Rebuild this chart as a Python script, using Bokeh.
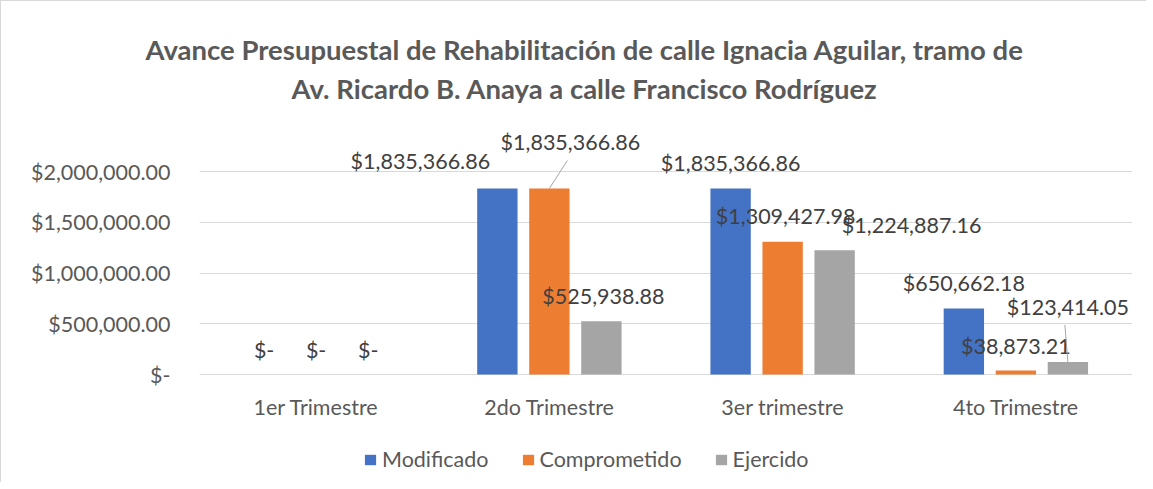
from bokeh.plotting import figure
from bokeh.models import FactorRange, ColumnDataSource, FixedTicker, Legend, LegendItem, Title, Range1d
from bokeh.transform import dodge
from bokeh.core.properties import value
from bokeh.embed import file_html
from bokeh.resources import INLINE

# ---- data ----
categories = ["1er Trimestre", "2do Trimestre", "3er trimestre", "4to Trimestre"]
series_names = ["Modificado", "Comprometido", "Ejercido"]
modificado = [0, 1835366.86, 1835366.86, 650662.18]
comprometido = [0, 1835366.86, 1309427.98, 38873.21]
ejercido = [0, 525938.88, 1224887.16, 123414.05]
y_ticks = [0, 500000, 1000000, 1500000, 2000000]
title_line1 = "Avance Presupuestal de Rehabilitación de calle Ignacia Aguilar, tramo de"
title_line2 = "Av. Ricardo B. Anaya a calle Francisco Rodríguez"

# ---- styling / layout ----
colors = ["#4472C4", "#ED7D31", "#A5A5A5"]
dodges = [-0.223, 0.0, 0.223]
bar_w = 0.173
FONT = "Lato"
FS = "21.5px"
# data label offsets (screen px) per series, per category
label_dx = [[0, -77, 0, 0], [0, 21, 3, 0], [0, 2, 77, 0]]
label_dy = [[-25, -27, -25, -26], [-25, -46, -26, -25], [-25, -25, -25, -55]]
# leader lines: (series, category, end dx px, end dy px)
leaders = [(1, 1, 18, -28), (2, 3, -3, -37)]

FIG_W, FIG_H = 1145, 481
LEFT = 198
FRAME_W = 933
FRAME_TOP = 104
ZERO_Y = 373
PX_PER_UNIT = 202.7 / 2000000
Y_START = -(FIG_H - ZERO_Y) / PX_PER_UNIT
Y_END = (ZERO_Y - FRAME_TOP) / PX_PER_UNIT


def money(v):
    return "$-" if v == 0 else "${:,.2f}".format(v)


p = figure(
    x_range=FactorRange(*categories),
    y_range=Range1d(Y_START, Y_END),
    frame_width=FRAME_W, frame_height=FIG_H - FRAME_TOP,
    min_border_left=LEFT, min_border_right=FIG_W - LEFT - FRAME_W,
    min_border_top=FRAME_TOP, min_border_bottom=0,
    output_backend="svg", toolbar_location=None, title=title_line1,
)
p.styles = {"border-left": "1px solid #D9D9D9", "border-top": "1px solid #D9D9D9"}
p.outline_line_color = None
p.background_fill_color = "white"
p.border_fill_color = "white"

all_vals = [modificado, comprometido, ejercido]
renderers = []
for i, vals in enumerate(all_vals):
    src = ColumnDataSource(dict(
        x=categories, y=vals, text=[money(v) for v in vals],
        dx=label_dx[i], dy=label_dy[i],
    ))
    r = p.vbar(x=dodge("x", dodges[i], range=p.x_range), top="y", width=bar_w,
               source=src, fill_color=colors[i], line_color=None)
    renderers.append(r)
    p.text(x=dodge("x", dodges[i], range=p.x_range), y="y", text="text", source=src,
           x_offset="dx", y_offset="dy", text_align="center", text_baseline="middle",
           text_font=value(FONT), text_font_size=FS, text_color="#404040")

x_per_px = len(categories) / FRAME_W
y_per_px = 1 / PX_PER_UNIT
for (si, ci, ex, ey) in leaders:
    v = all_vals[si][ci]
    src = ColumnDataSource(dict(x=[categories[ci]], y0=[v], y1=[v - ey * y_per_px]))
    p.segment(x0=dodge("x", dodges[si], range=p.x_range),
              x1=dodge("x", dodges[si] + ex * x_per_px, range=p.x_range),
              y0="y0", y1="y1", source=src, line_color="#A6A6A6", line_width=1)

# category labels under the zero line
cat_src = ColumnDataSource(dict(x=categories, y=[0] * len(categories)))
p.text(x="x", y="y", text="x", source=cat_src, y_offset=32,
       text_align="center", text_baseline="middle",
       text_font=value(FONT), text_font_size=FS, text_color="#595959")

# axes
p.xaxis.visible = False
p.yaxis.ticker = FixedTicker(ticks=y_ticks)
p.yaxis.major_label_overrides = {t: money(t) for t in y_ticks}
p.yaxis.axis_line_color = None
p.yaxis.major_tick_line_color = None
p.yaxis.minor_tick_line_color = None
p.yaxis.major_tick_out = 0
p.yaxis.major_tick_in = 0
p.yaxis.major_label_standoff = 29
p.yaxis.major_label_text_font = FONT
p.yaxis.major_label_text_font_size = FS
p.yaxis.major_label_text_color = "#595959"

p.xgrid.grid_line_color = None
p.ygrid.ticker = FixedTicker(ticks=y_ticks)
p.ygrid.grid_line_color = "#D9D9D9"
p.ygrid.grid_line_width = 1

# titles
p.title.align = "left"
p.title.offset = 144 - LEFT
p.title.standoff = 5
p.title.text_font = FONT
p.title.text_font_size = "27.5px"
p.title.text_font_style = "bold"
p.title.text_color = "#595959"
t2 = Title(text=title_line2, align="left", offset=290 - LEFT, standoff=2, text_font=FONT,
           text_font_size="27.5px", text_font_style="bold", text_color="#595959")
p.add_layout(t2, "above")

legend = Legend(items=[LegendItem(label=n, renderers=[r]) for n, r in zip(series_names, renderers)],
                orientation="horizontal", location=(362 - LEFT, 10),
                glyph_width=14, glyph_height=13, label_standoff=5, spacing=32, label_height=24,
                label_text_font=FONT, label_text_font_size=FS, label_text_color="#595959",
                border_line_color=None, background_fill_alpha=0, margin=0, padding=0)
p.add_layout(legend, "center")

open("out.html", "w").write(file_html(p, INLINE))
